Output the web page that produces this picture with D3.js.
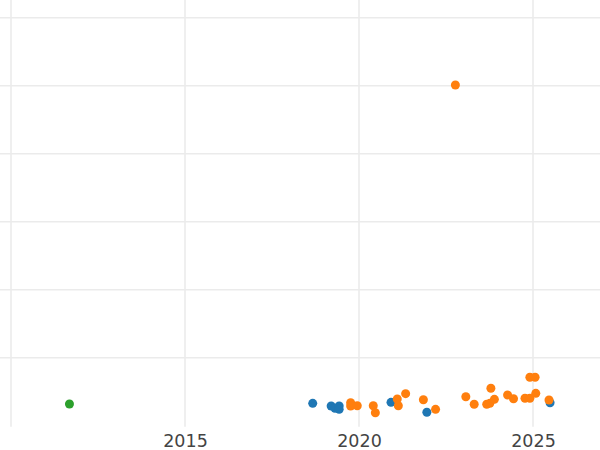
<!DOCTYPE html>
<html>
<head>
<meta charset="utf-8">
<script src="https://cdn.jsdelivr.net/npm/d3@7"></script>
<style>
  html, body { margin: 0; padding: 0; background: #fff; }
  svg { display: block; }
</style>
</head>
<body>
<svg id="chart" width="600" height="450"></svg>
<script>
// ---- Data ----
const xTickValues = [2010, 2015, 2020, 2025];
const xTickLabels = ["", "2015", "2020", "2025"];
const yGridValues = [10, 20, 30, 40, 50, 60];

const blueYears  = [2018.67, 2019.20, 2019.31, 2019.43, 2019.43, 2020.92, 2021.95, 2025.49];
const blueValues = [3.29, 2.90, 2.56, 2.90, 2.41, 3.44, 1.97, 3.38];

const orangeYears  = [2019.76, 2019.76, 2019.95, 2020.41, 2020.47, 2021.10, 2021.13, 2021.34, 2021.85, 2022.20,
                      2022.77, 2023.07, 2023.31, 2023.67, 2023.76, 2023.79, 2023.89, 2024.27, 2024.44, 2024.77,
                      2024.91, 2024.91, 2025.06, 2025.08, 2025.46];
const orangeValues = [3.38, 2.90, 2.94, 2.94, 1.91, 3.93, 2.94, 4.71, 3.82, 2.41,
                      50.1, 4.26, 3.15, 3.15, 3.29, 5.50, 3.88, 4.51, 3.97, 4.03,
                      4.03, 7.12, 7.12, 4.76, 3.78];

const greenYears  = [2011.68];
const greenValues = [3.19];

const seriesList = [
  { name: "blue",   years: blueYears,   values: blueValues,   color: "#1f77b4" },
  { name: "orange", years: orangeYears, values: orangeValues, color: "#ff7f0e" },
  { name: "green",  years: greenYears,  values: greenValues,  color: "#2ca02c" }
];

// ---- Layout ----
const svg = d3.select("#chart");
const plotLeft = -60, plotRight = 660, plotTop = -60, plotBottom = 426.7;

const x = d3.scaleLinear().domain([2010, 2025]).range([11, 533]);
const y = d3.scaleLinear().domain([10, 50]).range([357.7, 85.7]);

// Grid
const grid = svg.append("g");
grid.selectAll("line.h").data(yGridValues).enter().append("line")
  .attr("x1", plotLeft).attr("x2", plotRight)
  .attr("y1", d => y(d)).attr("y2", d => y(d))
  .attr("stroke", "#ebebeb").attr("stroke-width", 1.6);
grid.selectAll("line.v").data(xTickValues).enter().append("line")
  .attr("x1", d => x(d)).attr("x2", d => x(d))
  .attr("y1", plotTop).attr("y2", plotBottom)
  .attr("stroke", "#ebebeb").attr("stroke-width", 1.6);

// X axis labels
const xAxis = d3.axisBottom(x)
  .tickValues(xTickValues)
  .tickFormat((d, i) => xTickLabels[i])
  .tickSize(0).tickPadding(0);
const ax = svg.append("g").attr("transform", `translate(0,${plotBottom})`).call(xAxis);
ax.select(".domain").remove();
ax.selectAll("text")
  .attr("dy", null).attr("y", 20)
  .attr("fill", "#444")
  .style("font-family", "DejaVu Sans, sans-serif")
  .style("font-size", "17.5px");

// Points
const pts = svg.append("g");
seriesList.forEach(s => {
  const data = s.years.map((yr, i) => ({ yr, v: s.values[i] }));
  pts.append("g").selectAll("circle").data(data).enter().append("circle")
    .attr("cx", d => x(d.yr)).attr("cy", d => y(d.v))
    .attr("r", 4.5).attr("fill", s.color);
});
</script>
</body>
</html>
